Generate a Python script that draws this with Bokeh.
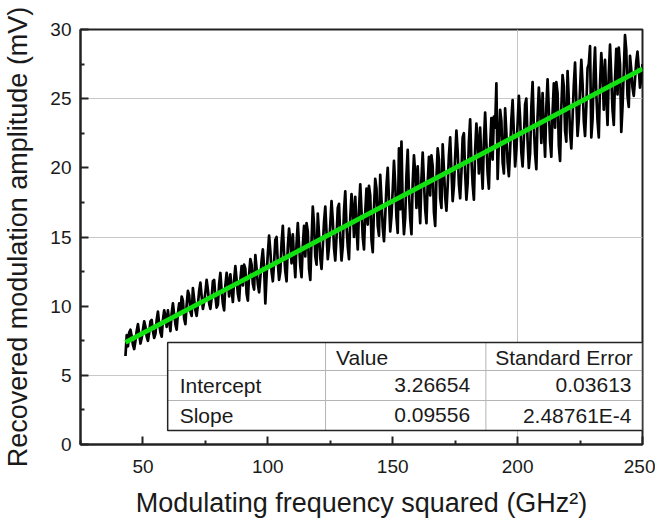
from bokeh.plotting import figure
from bokeh.models import FixedTicker
from bokeh.core.properties import value
from bokeh.embed import file_html
from bokeh.resources import INLINE
import numpy as np

# ---------------- data (one value every 0.5 GHz^2) ----------------
x_start, x_end = 43.0, 250.0
amplitude = [
    # 43.0-44.5
    6.4, 7.9, 7.1, 8.1,
    # 45.0-49.5
    8.3, 7.8, 7.2, 6.9, 7.5, 8.2, 8.7, 8.0, 7.3, 7.7,
    # 50.0-54.5
    8.3, 8.9, 8.5, 7.8, 7.5, 8.1, 8.9, 9.0, 8.2, 7.7,
    # 55.0-59.5
    8.0, 9.0, 9.6, 8.7, 8.1, 7.8, 9.0, 9.7, 9.3, 8.5,
    # 60.0-64.5
    9.7, 8.9, 8.2, 9.5, 10.2, 9.4, 8.7, 8.3, 9.5, 10.2,
    # 65.0-69.5
    9.5, 10.7, 10.4, 9.1, 8.7, 10.1, 11.1, 10.8, 9.6, 9.3,
    # 70.0-74.5
    11.3, 10.5, 9.7, 9.3, 10.1, 11.1, 11.7, 10.7, 9.8, 10.3,
    # 75.0-79.5
    11.0, 11.9, 11.2, 10.2, 9.8, 10.6, 11.8, 11.9, 10.7, 9.9,
    # 80.0-84.5
    10.1, 11.6, 12.4, 11.1, 10.2, 9.7, 11.5, 12.4, 11.8, 10.7,
    # 85.0-89.5
    12.3, 11.2, 10.3, 11.9, 12.9, 11.9, 10.9, 10.4, 11.9, 12.9,
    # 90.0-94.5
    11.5, 13.0, 12.7, 10.9, 10.4, 12.3, 13.4, 13.0, 11.6, 11.2,
    # 95.0-99.5
    13.7, 12.7, 11.6, 11.0, 12.1, 13.3, 14.1, 12.8, 10.2, 12.2,
    # 100.0-104.5
    13.8, 15.1, 14.0, 12.5, 11.8, 13.1, 14.8, 15.0, 13.1, 11.9,
    # 105.0-109.5
    12.5, 14.6, 15.8, 13.8, 12.5, 11.8, 14.3, 15.6, 14.7, 13.1,
    # 110.0-114.5
    15.2, 13.4, 12.1, 14.5, 16.0, 14.4, 12.9, 12.1, 14.4, 15.8,
    # 115.0-119.5
    13.6, 16.0, 15.4, 12.7, 11.9, 14.7, 17.2, 15.9, 13.6, 13.0,
    # 120.0-124.5
    16.7, 15.2, 13.5, 12.7, 14.3, 16.1, 17.2, 15.3, 13.4, 14.3,
    # 125.0-129.5
    15.9, 17.6, 16.2, 14.2, 13.3, 15.0, 17.1, 17.4, 14.9, 13.3,
    # 130.0-134.5
    14.3, 16.9, 18.3, 15.8, 14.3, 13.4, 16.4, 18.1, 17.0, 15.0,
    # 135.0-139.5
    17.9, 15.7, 14.1, 17.0, 18.8, 16.9, 15.0, 14.1, 16.8, 18.5,
    # 140.0-144.5
    15.9, 18.7, 18.0, 14.8, 13.9, 17.1, 19.2, 18.5, 15.8, 15.1,
    # 145.0-149.5
    19.5, 17.7, 15.7, 14.7, 16.5, 18.7, 20.0, 17.7, 15.4, 16.5,
    # 150.0-154.5
    18.4, 20.5, 18.8, 16.4, 15.3, 21.4, 17.0, 21.9, 17.1, 15.2,
    # 155.0-159.5
    16.4, 19.5, 21.3, 18.2, 16.3, 15.2, 18.9, 20.9, 19.6, 17.1,
    # 160.0-164.5
    20.1, 17.8, 16.0, 19.2, 21.1, 19.0, 17.0, 16.0, 18.9, 20.8,
    # 165.0-169.5
    18.0, 20.9, 20.1, 16.8, 15.8, 19.2, 21.4, 20.6, 17.8, 17.1,
    # 170.0-174.5
    21.7, 19.9, 17.9, 16.9, 18.7, 20.9, 22.2, 19.9, 17.6, 18.7,
    # 175.0-179.5
    20.8, 22.7, 21.2, 18.8, 17.8, 19.7, 22.2, 22.5, 19.6, 17.7,
    # 180.0-184.5
    18.9, 21.9, 23.5, 20.6, 18.8, 17.7, 21.3, 23.2, 21.9, 19.6,
    # 185.0-189.5
    22.9, 20.4, 18.5, 21.9, 24.0, 21.8, 19.6, 18.5, 21.6, 23.6,
    # 190.0-194.5
    20.6, 23.7, 22.9, 26.1, 19.2, 21.9, 24.2, 23.4, 20.4, 19.6,
    # 195.0-199.5
    24.3, 22.5, 20.4, 19.4, 21.3, 23.5, 24.9, 22.5, 20.1, 21.3,
    # 200.0-204.5
    23.2, 25.2, 23.6, 21.1, 20.1, 22.1, 24.6, 25.0, 21.9, 20.0,
    # 205.0-209.5
    21.1, 24.4, 26.2, 23.0, 21.0, 19.9, 23.7, 25.8, 24.4, 21.8,
    # 210.0-214.5
    25.4, 22.8, 20.8, 24.4, 26.4, 24.2, 21.9, 20.8, 24.0, 26.1,
    # 215.0-219.5
    22.9, 26.2, 25.4, 21.6, 20.5, 24.3, 26.7, 25.9, 22.7, 21.9,
    # 220.0-224.5
    27.0, 24.9, 22.6, 21.4, 23.6, 26.0, 27.6, 24.9, 22.3, 23.5,
    # 225.0-229.5
    25.7, 27.8, 26.1, 23.4, 22.3, 24.4, 27.2, 27.5, 28.8, 22.2,
    # 230.0-234.5
    23.5, 26.8, 28.7, 25.4, 23.4, 22.2, 26.1, 28.3, 26.8, 24.2,
    # 235.0-239.5
    27.8, 25.2, 23.1, 26.8, 28.9, 26.6, 24.2, 23.1, 26.4, 28.6,
    # 240.0-244.5
    25.3, 28.7, 27.5, 22.6, 24.4, 27.0, 29.6, 28.5, 25.2, 24.4,
    # 245.0-249.5
    28.1, 27.1, 25.8, 25.2, 26.4, 27.7, 28.4, 27.2, 25.8, 26.5,
    # 250.0
    27.5,
]
frequency_sq = np.linspace(x_start, x_end, len(amplitude))

fit_intercept = 3.26654
fit_slope = 0.09556
fit_x = [43.0, 250.0]

table_header = ["Value", "Standard Error"]
table_rows = ["Intercept", "Slope"]
table_values = ["3.26654", "0.09556"]
table_errors = ["0.03613", "2.48761E-4"]

x_ticks = [50, 100, 150, 200, 250]
x_minor = [25, 75, 125, 175, 225]
y_ticks = [0, 5, 10, 15, 20, 25, 30]
y_minor = [2.5, 7.5, 12.5, 17.5, 22.5, 27.5]

# ---------------- figure ----------------
FONT = "Liberation Sans"
p = figure(
    frame_width=562, frame_height=415,
    min_border_left=75, min_border_right=13, min_border_top=29, min_border_bottom=76,
    x_range=(25, 250), y_range=(0, 30),
    output_backend="svg", toolbar_location=None,
)
p.background_fill_color = "white"
p.border_fill_color = "white"
p.outline_line_color = "#222222"
p.outline_line_width = 2

p.xgrid.ticker = FixedTicker(ticks=[200])
p.ygrid.ticker = FixedTicker(ticks=[5, 15, 25])
p.xgrid.grid_line_color = "#c4c4c4"
p.ygrid.grid_line_color = "#c8c8c8"
p.xgrid.grid_line_width = 1
p.ygrid.grid_line_width = 1

for ax in (p.xaxis[0], p.yaxis[0]):
    ax.axis_line_color = "#222222"
    ax.axis_line_width = 2
    ax.major_tick_in = 8
    ax.major_tick_out = 0
    ax.minor_tick_in = 4
    ax.minor_tick_out = 0
    ax.major_tick_line_width = 2
    ax.minor_tick_line_width = 2
    ax.major_tick_line_color = "#222222"
    ax.minor_tick_line_color = "#222222"
    ax.major_label_text_font = FONT
    ax.major_label_text_font_size = "19px"
    ax.major_label_text_color = "#1a1a1a"
    ax.axis_label_text_font = FONT
    ax.axis_label_text_font_size = "27px"
    ax.axis_label_text_font_style = "normal"
    ax.axis_label_text_color = "#1a1a1a"

p.xaxis.ticker = FixedTicker(ticks=x_ticks, minor_ticks=x_minor)
p.yaxis.ticker = FixedTicker(ticks=y_ticks, minor_ticks=y_minor)
p.xaxis.major_label_standoff = 15
p.yaxis.major_label_standoff = 9
p.xaxis.axis_label = "Modulating frequency squared (GHz\u00b2)"
p.yaxis.axis_label = "Recovered modulation amplitude (mV)"
p.xaxis.axis_label_standoff = 12
p.yaxis.axis_label_standoff = 14

# data trace
p.line(frequency_sq, amplitude, line_color="black", line_width=2.7,
       line_join="round")

# linear fit
fit_y = [fit_intercept + fit_slope * xv for xv in fit_x]
p.line(fit_x, fit_y, line_color="#11e011", line_width=4.8)

# ---------------- fit table ----------------
tx0, tx1 = 59.9, 250.0
tc1, tc2 = 123.1, 187.3
ty0, ty1 = 1.01, 7.37
tr1, tr2 = 5.35, 3.18
row_y = [6.29, 4.27, 2.10]

p.quad(left=[tx0], right=[tx1], bottom=[ty0], top=[ty1],
       fill_color="white", line_color=None)
p.segment(x0=[tc1, tc2, tx0, tx0], y0=[ty0, ty0, tr1, tr2],
          x1=[tc1, tc2, tx1, tx1], y1=[ty1, ty1, tr1, tr2],
          line_color="#b4b4b4", line_width=1)
p.quad(left=[tx0], right=[tx1], bottom=[ty0], top=[ty1],
       fill_color=None, line_color="#222222", line_width=1.5)

tfont = value(FONT)
common = dict(text_font=tfont, text_font_size="21px", text_baseline="middle",
              text_color="#1a1a1a")
p.text(x=[127.3, 191.0], y=[row_y[0]] * 2, text=table_header, text_align="left", **common)
p.text(x=[64.7, 64.7], y=row_y[1:], text=table_rows, text_align="left", **common)
p.text(x=[181.0, 181.0], y=row_y[1:], text=table_values, text_align="right", **common)
p.text(x=[245.6, 245.6], y=row_y[1:], text=table_errors, text_align="right", **common)

open("out.html", "w").write(file_html(p, INLINE))
